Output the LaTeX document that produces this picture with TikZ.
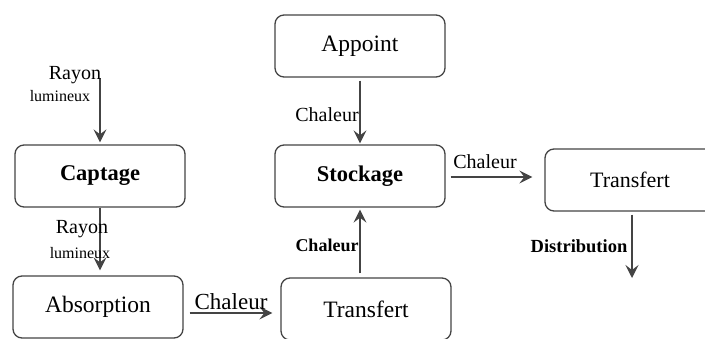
\documentclass[tikz,border=0pt]{standalone}
\usepackage{fontspec}
\setmainfont{Liberation Serif}
\usetikzlibrary{arrows.meta, positioning}
\definecolor{linegray}{HTML}{444444}

\begin{document}
\begin{tikzpicture}[x=1pt, y=-1pt,
 box/.style={draw=linegray, line width=1.3pt, rounded corners=9pt, minimum width=170pt, minimum height=62pt, inner sep=0pt, font=\fontsize{23.5}{27}\selectfont},
 boxbf/.style={box, font=\fontsize{22.5}{27}\selectfont\bfseries},
 flow/.style={draw=linegray, line width=1.3pt, -{Stealth[length=13pt, width=13pt, inset=5pt]}},
 lab/.style={inner sep=0pt, font=\fontsize{20}{23}\selectfont},
 small/.style={inner sep=0pt, font=\fontsize{16}{18}\selectfont}]
 \useasboundingbox (0,0) rectangle (705,338);
 % boites
 \node[box] (appoint) at (360,46) {Appoint};
 \node[boxbf] (stockage) at (360,176) {Stockage};
 \node[boxbf] (captage) at (100,176) {Captage};
 \node[box] (absorption) at (98,307) {Absorption};
 \node[box] (transfertA) at (366,309) {Transfert};
 \node[box, font=\fontsize{22}{26}\selectfont] (transfertB) at (630,180) {Transfert};
 % fleches
 \coordinate (rayon) at (100,78);
 \coordinate (sortie) at (632,278);
 \draw[flow, shorten >=2pt] (rayon) -- (captage.north);
 \draw[flow, shorten >=5pt] (captage.south) -- (absorption.north -| captage.south);
 \draw[flow, shorten <=6pt, shorten >=8pt] ([yshift=-6pt]absorption.east) -- ([yshift=-6pt]absorption.east -| transfertA.west);
 \draw[flow, shorten <=4pt, shorten >=2pt] (transfertA.north -| stockage.south) -- (stockage.south);
 \draw[flow, shorten <=3pt, shorten >=1pt] (appoint.south) -- (stockage.north);
 \draw[flow, shorten <=5pt, shorten >=12pt] ([yshift=-1pt]stockage.east) -- ([yshift=-1pt]stockage.east -| transfertB.west);
 \draw[flow, shorten <=3pt] (transfertB.south -| sortie) -- (sortie);
 % etiquettes
 \node[lab] (rayonA) at (75,75) {Rayon};
 \node[small] (lumA) at (60,96) {lumineux};
 \node[lab] (rayonB) at (82,229) {Rayon};
 \node[small] (lumB) at (80,253) {lumineux};
 \node[inner sep=0pt, font=\fontsize{23}{26}\selectfont] (chalA) at (231,302) {Chaleur};
 \node[lab] (chalB) at (327,115) {Chaleur};
 \node[lab, font=\fontsize{18}{22}\selectfont\bfseries] (chalC) at (327,245) {Chaleur};
 \node[lab] (chalD) at (485,162) {Chaleur};
 \node[lab, font=\fontsize{18.5}{22}\selectfont\bfseries] (distri) at (579,246) {Distribution};
\end{tikzpicture}
\end{document}
